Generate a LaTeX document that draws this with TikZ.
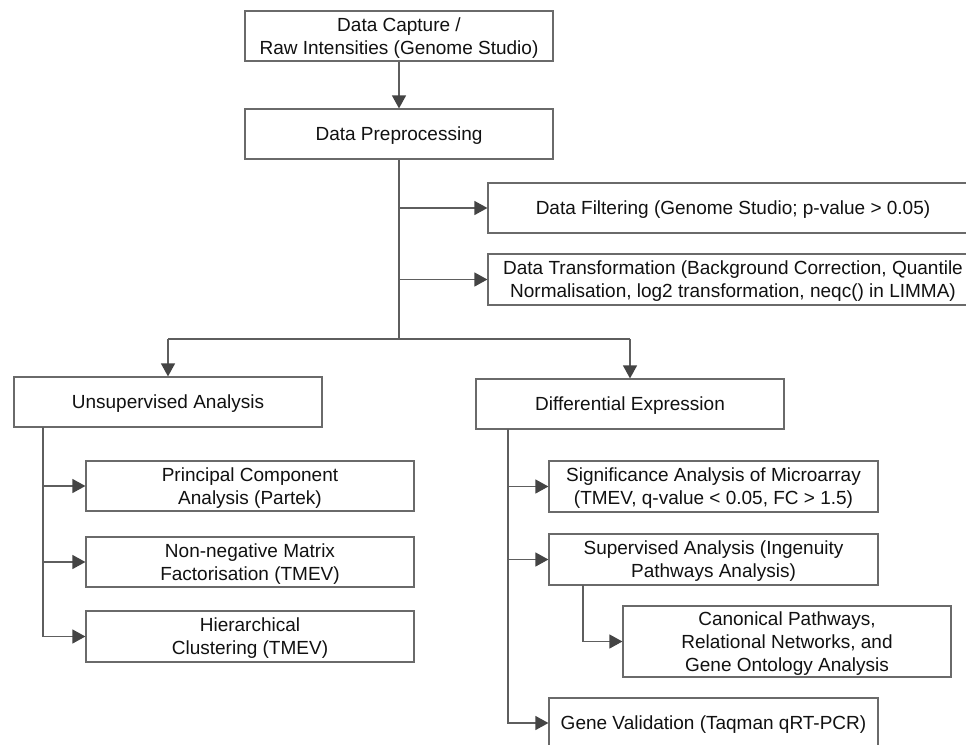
\documentclass[tikz,border=0pt]{standalone}
\usepackage{fontspec}
\setmainfont{Liberation Sans}
\usetikzlibrary{arrows.meta}
\definecolor{boxc}{HTML}{6A6A6A}
\definecolor{linec}{HTML}{5E5E5E}
\definecolor{arrowc}{HTML}{444444}
\definecolor{txtc}{HTML}{111111}
\tikzset{
  box/.style={draw=boxc, line width=1.2pt, fill=white, inner sep=0pt, align=center,
    font=\fontsize{19}{23}\selectfont, text=txtc, text depth=0pt},
  link/.style={draw=linec, line width=1.2pt},
  conn/.style={link, -{Triangle[length=13pt,width=14pt,color=arrowc]}}
}
\begin{document}
\begin{tikzpicture}[x=1pt,y=-1pt]
\useasboundingbox (0,0) rectangle (966,744);
\clip (0,0) rectangle (966,744);
\fill[white] (0,0) rectangle (966,744);
% nodes
\node[box, minimum width=308pt, minimum height=50pt] (cap) at (399,36) {Data Capture /\\Raw Intensities (Genome Studio)};
\node[box, minimum width=308pt, minimum height=50pt] (pre) at (399,134) {Data Preprocessing};
\node[box, minimum width=490pt, minimum height=50pt] (filt) at (733,208) {Data Filtering (Genome Studio; p-value > 0.05)};
\node[box, minimum width=490pt, minimum height=51pt] (trans) at (733,279.5) {Data Transformation (Background Correction, Quantile\\Normalisation, log2 transformation, neqc() in LIMMA)};
\node[box, minimum width=308pt, minimum height=50pt] (uns) at (168,402) {Unsupervised Analysis};
\node[box, minimum width=308pt, minimum height=50pt] (diff) at (630,404) {Differential Expression};
\node[box, minimum width=328pt, minimum height=50pt] (pca) at (250,486) {Principal Component\\Analysis (Partek)};
\node[box, minimum width=328pt, minimum height=50pt] (nmf) at (250,562) {Non-negative Matrix\\Factorisation (TMEV)};
\node[box, minimum width=328pt, minimum height=51pt] (hier) at (250,636.5) {Hierarchical\\Clustering (TMEV)};
\node[box, minimum width=329pt, minimum height=51pt] (sam) at (713.5,486.5) {Significance Analysis of Microarray\\(TMEV, q-value < 0.05, FC > 1.5)};
\node[box, minimum width=329pt, minimum height=51pt] (sup) at (713.5,559.5) {Supervised Analysis (Ingenuity\\Pathways Analysis)};
\node[box, minimum width=328pt, minimum height=71pt] (can) at (787,641.5) {Canonical Pathways,\\Relational Networks, and\\Gene Ontology Analysis};
\node[box, minimum width=329pt, minimum height=50pt] (gv) at (713.5,723) {Gene Validation (Taqman qRT-PCR)};
% junctions
\coordinate (jc) at (399,339);
\coordinate (jl) at (168,339);
\coordinate (jr) at (630,339);
\coordinate (ut) at (43,427);
\coordinate (dt) at (508,429);
\coordinate (st) at (583,585);
% connectors
\draw[conn] (cap) -- (pre);
\draw[link] (pre.south) -- (jc);
\draw[conn] (pre.south |- filt.west) -- (filt.west);
\draw[conn] (pre.south |- trans.west) -- (trans.west);
\draw[link] (jl) -- (jr);
\draw[conn] (jl) -- (uns.north);
\draw[conn] (jr) -- (diff.north);
\draw[conn] (ut) |- (pca.west);
\draw[conn] (ut) |- (nmf.west);
\draw[conn] (ut) |- (hier.west);
\draw[conn] (dt) |- (sam.west);
\draw[conn] (dt) |- (sup.west);
\draw[conn] (dt) |- (gv.west);
\draw[conn] (st) |- (can.west);
\end{tikzpicture}
\end{document}
